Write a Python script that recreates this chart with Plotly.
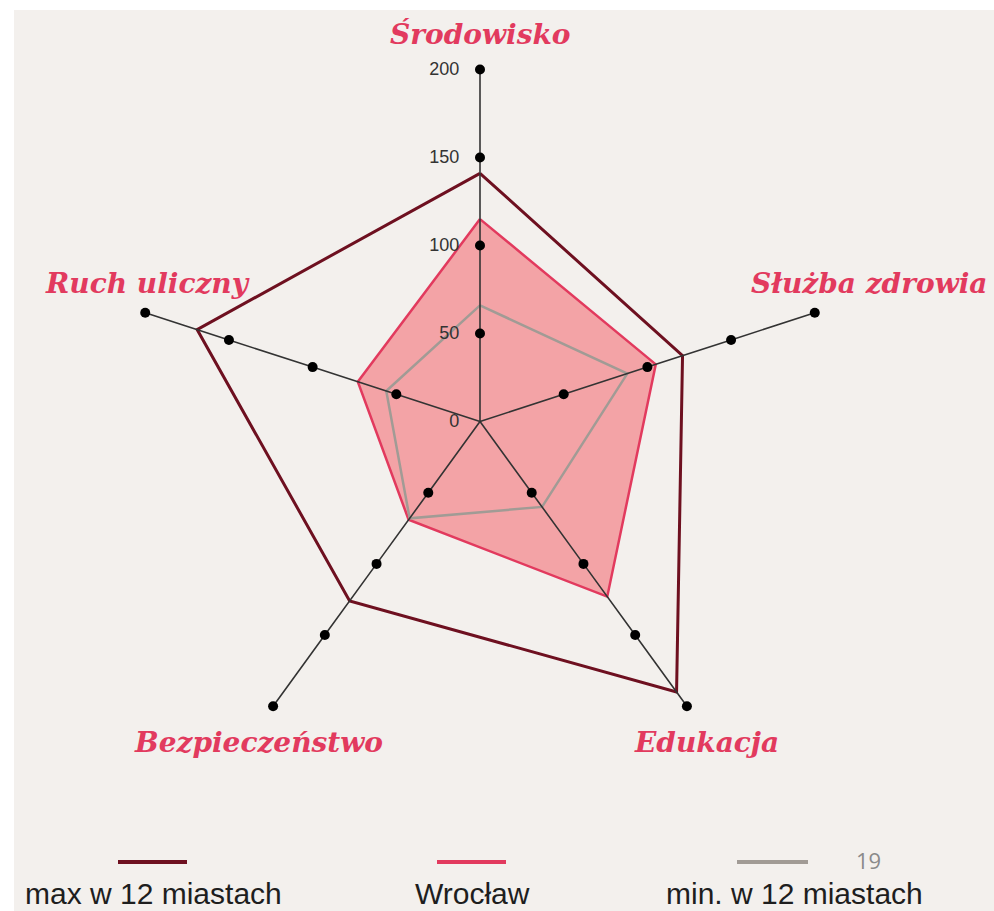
import plotly.graph_objects as go

# ---- data ----
categories = ["Środowisko", "Służba zdrowia", "Edukacja", "Bezpieczeństwo", "Ruch uliczny"]
max_vals = [141, 121, 190, 126, 169]
wroclaw_vals = [115, 105, 123, 69, 73]
min_vals = [66, 88, 60, 68, 56]
tick_vals = [0, 50, 100, 150, 200]
tick_text = ["0", "50", "100", "150", "200"]
series_names = ["max w 12 miastach", "Wrocław", "min. w 12 miastach"]
page_number = "19"

W, H = 994, 911
BG = "#f3f0ed"
PINK = "#e23a5e"
MAROON = "#6e1020"
GRAY = "#a19b95"
FILL = "#f3a3a6"


def px(x, y):
    return x / W, 1 - y / H


def closed(vals):
    return list(vals) + [vals[0]], categories + [categories[0]]


fig = go.Figure()

r, t = closed(wroclaw_vals)
fig.add_trace(go.Scatterpolar(r=r, theta=t, mode="lines", fill="toself",
                              fillcolor=FILL, line=dict(color=PINK, width=2.5),
                              showlegend=False, hoverinfo="skip"))
r, t = closed(min_vals)
fig.add_trace(go.Scatterpolar(r=r, theta=t, mode="lines",
                              line=dict(color=GRAY, width=2.5),
                              showlegend=False, hoverinfo="skip"))
r, t = closed(max_vals)
fig.add_trace(go.Scatterpolar(r=r, theta=t, mode="lines",
                              line=dict(color=MAROON, width=3),
                              showlegend=False, hoverinfo="skip"))

# spokes with dots
for c in categories:
    fig.add_trace(go.Scatterpolar(
        r=tick_vals, theta=[c] * len(tick_vals), mode="lines+markers",
        line=dict(color="#333333", width=1.6),
        marker=dict(color="#000000", opacity=1, line=dict(width=0),
                    size=[0] + [10] * (len(tick_vals) - 1)),
        showlegend=False, hoverinfo="skip"))

cx, cy, R = 480, 421.5, 352
x0, _ = px(cx - R, 0)
x1, _ = px(cx + R, 0)
_, y0 = px(0, cy + R)
_, y1 = px(0, cy - R)

fig.update_layout(
    width=W, height=H,
    margin=dict(l=0, r=0, t=0, b=0),
    paper_bgcolor="white",
    showlegend=False,
    polar=dict(
        domain=dict(x=[x0, x1], y=[y0, y1]),
        bgcolor="rgba(0,0,0,0)",
        angularaxis=dict(rotation=90, direction="clockwise", visible=False,
                         categoryorder="array", categoryarray=categories),
        radialaxis=dict(range=[0, 200], angle=90, tickangle=90,
                        side="counterclockwise",
                        tickvals=tick_vals, ticktext=tick_text,
                        showgrid=False, showline=False,
                        ticks="outside", ticklen=14, tickcolor="rgba(0,0,0,0)",
                        tickfont=dict(family="Liberation Sans", size=18, color="#333333")),
    ),
)

shapes = []
# background panel
bx0, by1 = px(14, 10)
shapes.append(dict(type="rect", xref="paper", yref="paper", x0=bx0, x1=1, y0=0, y1=by1,
                   fillcolor=BG, line=dict(width=0), layer="below"))

annotations = []
label_pos = [(480, 35), (869, 283), (706, 742), (258, 742), (147, 283)]
for c, (lx, ly) in zip(categories, label_pos):
    ax, ay = px(lx, ly)
    annotations.append(dict(text=c, x=ax, y=ay, xref="paper", yref="paper",
                            showarrow=False, xanchor="center", yanchor="middle",
                            font=dict(family="DejaVu Serif", size=28, color=PINK,
                                      weight="bold", style="italic")))

# legend
leg_colors = [MAROON, PINK, GRAY]
leg_lines = [(118, 187), (437, 506), (737, 808)]
leg_text_x = [153, 472, 794]
for name, col, (lx0, lx1), tx in zip(series_names, leg_colors, leg_lines, leg_text_x):
    a0, ly = px(lx0, 862)
    a1, _ = px(lx1, 862)
    shapes.append(dict(type="line", xref="paper", yref="paper", x0=a0, x1=a1, y0=ly, y1=ly,
                       line=dict(color=col, width=4)))
    ax, ay = px(tx, 893)
    annotations.append(dict(text=name, x=ax, y=ay, xref="paper", yref="paper",
                            showarrow=False, xanchor="center", yanchor="middle",
                            font=dict(family="Liberation Sans", size=30, color="#1e1e1e")))

ax, ay = px(868, 860)
annotations.append(dict(text=page_number, x=ax, y=ay, xref="paper", yref="paper",
                        showarrow=False, xanchor="center", yanchor="middle",
                        font=dict(family="Open Sans", size=22, color="#8a8a8a")))

fig.update_layout(shapes=shapes, annotations=annotations)
fig.write_html("out.html", config={"displayModeBar": False},
               post_script="document.body.style.margin='0';document.body.style.overflow='hidden';")
